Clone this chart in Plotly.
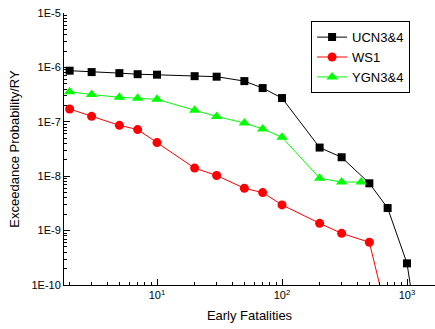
import plotly.graph_objects as go

# Data
ucn_x = [2, 3, 5, 7, 10, 20, 30, 50, 70, 100, 200, 300, 500, 700, 1000, 1100]
ucn_y = [8.7e-7, 8.2e-7, 7.85e-7, 7.5e-7, 7.35e-7, 6.9e-7, 6.75e-7, 5.6e-7, 4.17e-7,
         2.73e-7, 3.36e-8, 2.23e-8, 7.4e-9, 2.6e-9, 2.5e-10, 6e-11]

ws1_x = [2, 3, 5, 7, 10, 20, 30, 50, 70, 100, 200, 300, 500, 700]
ws1_y = [1.72e-7, 1.26e-7, 8.6e-8, 7.2e-8, 4.15e-8, 1.41e-8, 1.03e-8, 6.0e-9, 5.0e-9,
         2.97e-9, 1.36e-9, 8.9e-10, 6.1e-10, 2.5e-11]

ygn_x = [2, 3, 5, 7, 10, 20, 30, 50, 70, 100, 200, 300, 430]
ygn_y = [3.58e-7, 3.16e-7, 2.82e-7, 2.7e-7, 2.59e-7, 1.63e-7, 1.25e-7, 9.5e-8, 7.4e-8,
         5.2e-8, 9.2e-9, 7.8e-9, 7.8e-9]

series_names = ["UCN3&4", "WS1", "YGN3&4"]

y_tickvals = [1e-5, 1e-6, 1e-7, 1e-8, 1e-9, 1e-10]
y_ticktext = ["1E-5", "1E-6", "1E-7", "1E-8", "1E-9", "1E-10"]
x_tickvals = [10, 100, 1000]
x_ticktext = ["10<sup>1</sup>", "10<sup>2</sup>", "10<sup>3</sup>"]

x_minor = [m * 10 ** e for e in range(0, 4) for m in range(2, 10)]
y_minor = [m * 10.0 ** e for e in range(-10, -5) for m in range(2, 10)]

fig = go.Figure()
fig.add_trace(go.Scatter(x=ucn_x, y=ucn_y, name=series_names[0], mode="lines+markers",
                         line=dict(color="black", width=1),
                         marker=dict(symbol="square", size=8, color="black")))
fig.add_trace(go.Scatter(x=ws1_x, y=ws1_y, name=series_names[1], mode="lines+markers",
                         line=dict(color="#ff0000", width=1),
                         marker=dict(symbol="circle", size=9, color="#ff0000")))
fig.add_trace(go.Scatter(x=ygn_x, y=ygn_y, name=series_names[2], mode="lines+markers",
                         line=dict(color="#00ff00", width=1),
                         marker=dict(symbol="triangle-up", size=10, color="#00ff00")))

font = "Liberation Sans, Arial, sans-serif"
fig.update_layout(
    width=435, height=329,
    margin=dict(l=64, r=0, t=13, b=44),
    paper_bgcolor="white", plot_bgcolor="white",
    font=dict(family=font, color="black", size=11),
    showlegend=True,
    legend=dict(x=0.666, y=0.97, xanchor="left", yanchor="top",
                bordercolor="black", borderwidth=1, bgcolor="white",
                font=dict(size=13, family=font), tracegroupgap=0),
    xaxis=dict(type="log", range=[0.256, 3.224], showline=True, linecolor="black",
               linewidth=1, showgrid=False, zeroline=False, ticks="inside", ticklen=6,
               tickcolor="black", tickvals=x_tickvals, ticktext=x_ticktext,
               tickfont=dict(size=11), automargin=False,
               minor=dict(tickvals=x_minor, ticks="inside", ticklen=3, tickcolor="black"),
               title=dict(text="Early Fatalities", font=dict(size=13), standoff=10)),
    yaxis=dict(type="log", range=[-10, -5], showline=True, linecolor="black",
               linewidth=1, showgrid=False, zeroline=False, ticks="inside", ticklen=6,
               tickcolor="black", tickvals=y_tickvals, ticktext=y_ticktext,
               tickfont=dict(size=11), automargin=False,
               minor=dict(tickvals=y_minor, ticks="inside", ticklen=3, tickcolor="black"),
               title=dict(text="Exceedance Probability/RY", font=dict(size=13), standoff=8)),
)

fig.write_html("out.html", config={"displayModeBar": False},
               post_script="document.body.style.margin='0';")
